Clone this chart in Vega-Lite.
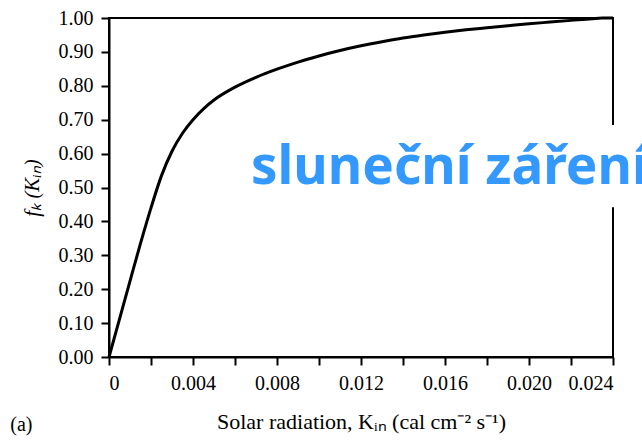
{
  "$schema": "https://vega.github.io/schema/vega-lite/v6.json",
  "width": 504,
  "height": 339,
  "autosize": {"type": "none"},
  "padding": {"left": 109, "top": 18, "right": 29, "bottom": 83},
  "background": "white",
  "config": {
    "view": {"stroke": "black", "strokeWidth": 2},
    "axis": {
      "domainColor": "black", "domainWidth": 2,
      "tickColor": "black", "tickWidth": 2, "tickSize": 8,
      "labelFont": "Liberation Serif", "labelFontSize": 20, "labelColor": "black",
      "titleFont": "Liberation Serif", "titleFontSize": 19, "titleColor": "black", "titleFontWeight": "normal",
      "grid": false
    }
  },
  "layer": [
    {
      "data": {"values": [
        {"k": 0, "f": 0},
        {"k": 0.0005, "f": 0.112},
        {"k": 0.001, "f": 0.224},
        {"k": 0.0015, "f": 0.335},
        {"k": 0.002, "f": 0.44},
        {"k": 0.0025, "f": 0.535},
        {"k": 0.003, "f": 0.607},
        {"k": 0.0035, "f": 0.66},
        {"k": 0.004, "f": 0.70},
        {"k": 0.0045, "f": 0.732},
        {"k": 0.005, "f": 0.758},
        {"k": 0.006, "f": 0.796},
        {"k": 0.007, "f": 0.825},
        {"k": 0.008, "f": 0.849},
        {"k": 0.009, "f": 0.87},
        {"k": 0.010, "f": 0.888},
        {"k": 0.011, "f": 0.904},
        {"k": 0.012, "f": 0.918},
        {"k": 0.013, "f": 0.930},
        {"k": 0.014, "f": 0.941},
        {"k": 0.015, "f": 0.950},
        {"k": 0.016, "f": 0.958},
        {"k": 0.017, "f": 0.965},
        {"k": 0.018, "f": 0.971},
        {"k": 0.019, "f": 0.977},
        {"k": 0.020, "f": 0.983},
        {"k": 0.021, "f": 0.988},
        {"k": 0.022, "f": 0.993},
        {"k": 0.023, "f": 0.998},
        {"k": 0.0235, "f": 1.0},
        {"k": 0.024, "f": 1.0}
      ]},
      "mark": {"type": "line", "color": "black", "strokeWidth": 3, "interpolate": "monotone"},
      "encoding": {
        "x": {
          "field": "k", "type": "quantitative",
          "scale": {"domain": [0, 0.024], "nice": false, "zero": false},
          "axis": {
            "values": [0, 0.002, 0.004, 0.006, 0.008, 0.01, 0.012, 0.014, 0.016, 0.018, 0.02, 0.022, 0.024],
            "tickCount": 13,
            "labelExpr": "round(datum.value*1000) % 4 == 0 ? (datum.value == 0 ? '0' : format(datum.value, '.3f')) : ''",
            "labelPadding": 8,
            "labelOverlap": false,
            "title": "Solar radiation, Kᵢₙ (cal cm⁻² s⁻¹)",
            "titleFontSize": 22,
            "titlePadding": 18
          }
        },
        "y": {
          "field": "f", "type": "quantitative",
          "scale": {"domain": [0, 1], "nice": false},
          "axis": {
            "values": [0, 0.1, 0.2, 0.3, 0.4, 0.5, 0.6, 0.7, 0.8, 0.9, 1.0],
            "tickCount": 11,
            "format": ".2f",
            "labelPadding": 8,
            "labelOverlap": false,
            "title": "fₖ (Kᵢₙ)",
            "titleFontStyle": "italic",
            "titleFontSize": 21,
            "titlePadding": 16
          }
        }
      }
    },
    {
      "data": {"values": [{"label": "box"}]},
      "mark": {"type": "rect", "fill": "white", "clip": false},
      "encoding": {
        "x": {"datum": 0.0064, "type": "quantitative"},
        "x2": {"datum": 0.027},
        "y": {"datum": 0.442, "type": "quantitative"},
        "y2": {"datum": 0.684}
      }
    },
    {
      "data": {"values": [{"label": "sluneční záření"}]},
      "mark": {"type": "text", "font": "Noto Sans", "fontWeight": "bold", "fontSize": 53, "color": "#3399ff", "align": "left", "baseline": "alphabetic", "clip": false},
      "encoding": {
        "text": {"field": "label"},
        "x": {"datum": 0.00676, "type": "quantitative"},
        "y": {"datum": 0.51, "type": "quantitative"}
      }
    },
    {
      "data": {"values": [{"label": "(a)"}]},
      "mark": {"type": "text", "font": "Liberation Serif", "fontSize": 20, "color": "black", "align": "left", "baseline": "middle", "clip": false},
      "encoding": {
        "text": {"field": "label"},
        "x": {"datum": -0.0047, "type": "quantitative"},
        "y": {"datum": -0.2, "type": "quantitative"}
      }
    }
  ]
}
